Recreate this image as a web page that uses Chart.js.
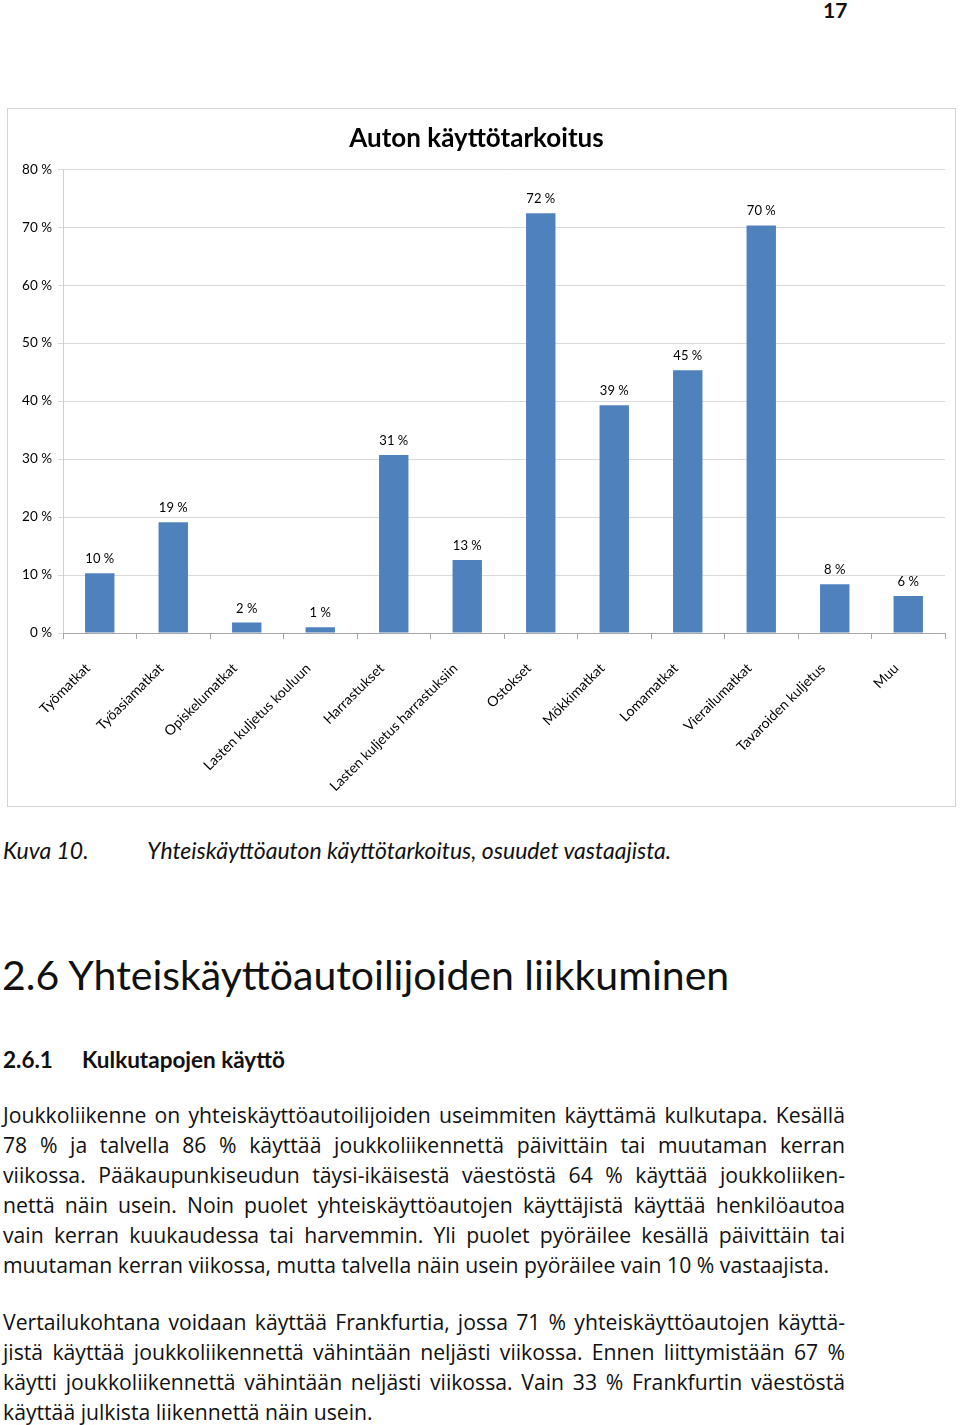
<!DOCTYPE html>
<html lang="fi">
<head>
<meta charset="utf-8">
<title>Auton käyttötarkoitus</title>
<script src="https://cdn.jsdelivr.net/npm/chart.js@4.4.1/dist/chart.umd.min.js"></script>
<style>
  body { margin: 0; background: #fff; font-family: Lato, "Open Sans", sans-serif; color: #111; }
  .page { position: relative; width: 960px; height: 1425px; overflow: hidden; }
  .pageno { position: absolute; left: 823px; top: -3px; font-size: 21px; font-weight: bold; }
  .box { position: absolute; left: 7px; top: 108px; width: 947px; height: 697px; border: 1px solid #d4d4d4; }
  .caption { position: absolute; top: 836px; left: 3px; font-size: 23px; font-style: italic; }
  .caption span { position: absolute; left: 144px; white-space: nowrap; }
  h1 { position: absolute; top: 950px; left: 2px; margin: 0; font-size: 41px; font-weight: 400; white-space: nowrap; }
  h2 { position: absolute; top: 1046px; left: 3px; margin: 0; font-size: 22.5px; font-weight: bold; white-space: nowrap; }
  h2 span { position: absolute; left: 79px; }
  .para { position: absolute; left: 3px; width: 842px; font-family: "Open Sans", sans-serif; font-size: 21.2px; line-height: 30px; }
  .para div { text-align: justify; text-align-last: justify; white-space: nowrap; }
  .para div.last { text-align-last: left; }
</style>
</head>
<body>
<div class="page">
  <div class="pageno">17</div>
  <div class="box"><canvas id="myChart" width="947" height="697"></canvas></div>

  <div class="caption">Kuva 10.<span>Yhteiskäyttöauton käyttötarkoitus, osuudet vastaajista.</span></div>

  <h1>2.6 Yhteiskäyttöautoilijoiden liikkuminen</h1>
  <h2>2.6.1<span>Kulkutapojen käyttö</span></h2>

  <div class="para" style="top:1100px">
    <div>Joukkoliikenne on yhteiskäyttöautoilijoiden useimmiten käyttämä kulkutapa. Kesällä</div>
    <div>78 % ja talvella 86 % käyttää joukkoliikennettä päivittäin tai muutaman kerran</div>
    <div>viikossa. Pääkaupunkiseudun täysi-ikäisestä väestöstä 64 % käyttää joukkoliiken-</div>
    <div>nettä näin usein. Noin puolet yhteiskäyttöautojen käyttäjistä käyttää henkilöautoa</div>
    <div>vain kerran kuukaudessa tai harvemmin. Yli puolet pyöräilee kesällä päivittäin tai</div>
    <div class="last">muutaman kerran viikossa, mutta talvella näin usein pyöräilee vain 10 % vastaajista.</div>
  </div>
  <div class="para" style="top:1307px">
    <div>Vertailukohtana voidaan käyttää Frankfurtia, jossa 71 % yhteiskäyttöautojen käyttä-</div>
    <div>jistä käyttää joukkoliikennettä vähintään neljästi viikossa. Ennen liittymistään 67 %</div>
    <div>käytti joukkoliikennettä vähintään neljästi viikossa. Vain 33 % Frankfurtin väestöstä</div>
    <div class="last">käyttää julkista liikennettä näin usein.</div>
  </div>
</div>

<script>
// Auton käyttötarkoitus, osuus vastaajista (%)
const categories = ['Työmatkat', 'Työasiamatkat', 'Opiskelumatkat', 'Lasten kuljetus kouluun',
    'Harrastukset', 'Lasten kuljetus harrastuksiin', 'Ostokset', 'Mökkimatkat',
    'Lomamatkat', 'Vierailumatkat', 'Tavaroiden kuljetus', 'Muu'];
const shares = [10.3, 19.1, 1.8, 1.0, 30.7, 12.6, 72.4, 39.3, 45.3, 70.3, 8.4, 6.4];
const yTicks = [0, 10, 20, 30, 40, 50, 60, 70, 80];

// value labels above the bars
const barLabels = {
    id: 'barLabels',
    afterDatasetsDraw(chart) {
        const ctx = chart.ctx;
        const meta = chart.getDatasetMeta(0);
        ctx.save();
        ctx.font = '13px Lato';
        ctx.fillStyle = '#000';
        ctx.textAlign = 'center';
        ctx.textBaseline = 'alphabetic';
        meta.data.forEach((bar, i) => {
            ctx.fillText(Math.round(shares[i]) + ' %', bar.x, bar.y - 10);
        });
        ctx.restore();
    }
};

const ctx = document.getElementById('myChart').getContext('2d');
window.myChart = new Chart(ctx, {
    type: 'bar',
    data: {
        labels: categories,
        datasets: [{
            data: shares,
            backgroundColor: '#4f81bd',
            borderWidth: 0,
            barPercentage: 0.4,
            categoryPercentage: 1
        }]
    },
    plugins: [barLabels],
    options: {
        responsive: false,
        animation: false,
        layout: { padding: { left: 0, right: 10, top: 0, bottom: 0 } },
        plugins: {
            legend: { display: false },
            tooltip: { enabled: false },
            title: {
                display: true,
                text: 'Auton käyttötarkoitus',
                color: '#000',
                font: { family: 'Lato', size: 26, weight: 'bold' },
                padding: { top: 14, bottom: 15 }
            }
        },
        scales: {
            y: {
                min: 0,
                max: 80,
                afterBuildTicks: scale => { scale.ticks = yTicks.map(v => ({ value: v })); },
                afterFit: scale => { scale.width = 55; },
                ticks: {
                    color: '#000',
                    padding: 6,
                    font: { family: 'Lato', size: 13.5 },
                    callback: v => v + ' %'
                },
                grid: { color: '#d9d9d9', tickLength: 5 },
                border: { color: '#d0d0d0' }
            },
            x: {
                afterFit: scale => { scale.height = 173; },
                ticks: {
                    color: '#000',
                    minRotation: 45,
                    maxRotation: 45,
                    autoSkip: false,
                    padding: 21,
                    labelOffset: -12,
                    font: { family: 'Lato', size: 14 }
                },
                grid: { drawOnChartArea: false, color: '#a6a6a6', tickLength: 6 },
                border: { color: '#a6a6a6' }
            }
        }
    }
});
</script>
</body>
</html>
